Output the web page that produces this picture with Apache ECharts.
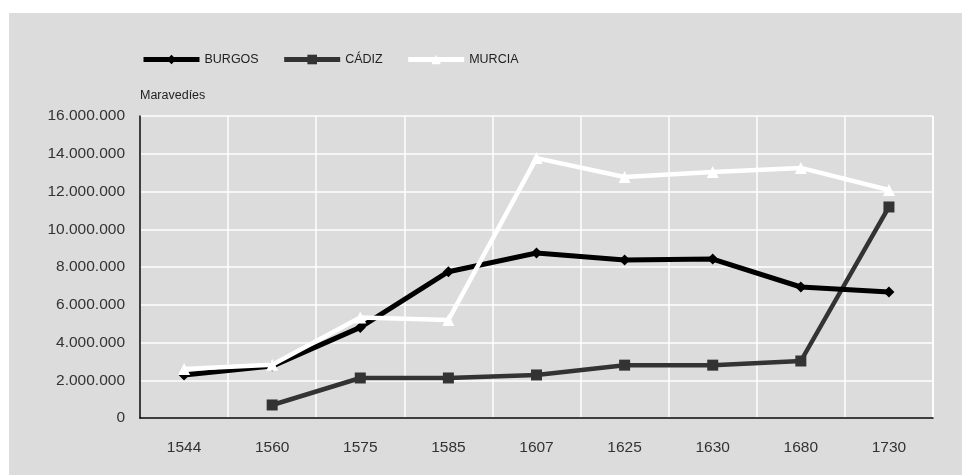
<!DOCTYPE html>
<html><head><meta charset="utf-8">
<script src="https://cdn.jsdelivr.net/npm/echarts@6/dist/echarts.min.js"></script>
<style>
html,body{margin:0;padding:0;background:#fff;}
#bg{position:absolute;left:9px;top:13px;width:953px;height:462px;background:#dcdcdc;}
#c{position:absolute;left:0;top:0;width:962px;height:475px;}
</style></head>
<body><div id="bg"></div><div id="c"></div>
<script>
const years = ['1544','1560','1575','1585','1607','1625','1630','1680','1730'];
const burgos = [2280000, 2750000, 4800000, 7750000, 8740000, 8370000, 8420000, 6940000, 6680000];
const cadiz = [null, 690000, 2120000, 2120000, 2280000, 2800000, 2800000, 3020000, 11180000];
const murcia = [2600000, 2820000, 5330000, 5190000, 13770000, 12770000, 13030000, 13250000, 12080000];
const yTicks = [0, 2000000, 4000000, 6000000, 8000000, 10000000, 12000000, 14000000, 16000000];

const fmt = v => String(v).replace(/\B(?=(\d{3})+(?!\d))/g, '.');
const font = 'Liberation Sans, Arial, sans-serif';
const chart = echarts.init(document.getElementById('c'), null, {renderer:'canvas'});
chart.setOption({
  backgroundColor: 'transparent',
  animation: false,
  textStyle: {fontFamily: font},
  legend: {
    left: 136, top: 48, itemWidth: 56, itemHeight: 12, itemGap: 23,
    textStyle: {fontSize: 12.5, color: '#222', fontFamily: font},
    data: [
      {name: 'BURGOS', lineStyle: {width: 5}},
      {name: 'CÁDIZ', lineStyle: {width: 5}},
      {name: 'MURCIA', lineStyle: {width: 5}}
    ]
  },
  grid: {left: 140, right: 29, top: 116, bottom: 57, containLabel: false},
  xAxis: {
    type: 'category', data: years, boundaryGap: true,
    axisLine: {lineStyle: {color: '#000', width: 1.5}},
    axisTick: {show: false},
    axisLabel: {fontSize: 15.5, color: '#333', margin: 22, fontFamily: font},
    splitLine: {show: true, interval: 0, lineStyle: {color: '#fff', width: 1.5}}
  },
  yAxis: {
    type: 'value', min: 0, max: 16000000, interval: 2000000,
    name: 'Maravedíes', nameLocation: 'end', nameGap: 14,
    nameTextStyle: {fontSize: 12.5, color: '#222', align: 'left', fontFamily: font},
    axisLine: {show: true, lineStyle: {color: '#000', width: 1.5}},
    axisTick: {show: false},
    axisLabel: {fontSize: 15.5, color: '#333', margin: 15, formatter: v => fmt(v), fontFamily: font},
    splitLine: {show: true, lineStyle: {color: '#fff', width: 1.5}}
  },
  series: [
    {name: 'BURGOS', type: 'line', data: burgos, color: '#000',
     lineStyle: {width: 5, color: '#000'}, symbol: 'diamond', symbolSize: 11,
     itemStyle: {color: '#000'}, z: 3},
    {name: 'CÁDIZ', type: 'line', data: cadiz, color: '#333',
     lineStyle: {width: 4.5, color: '#333'}, symbol: 'rect', symbolSize: 11,
     itemStyle: {color: '#333'}, z: 2},
    {name: 'MURCIA', type: 'line', data: murcia, color: '#fff',
     lineStyle: {width: 4.5, color: '#fff'}, symbol: 'triangle', symbolSize: 12,
     itemStyle: {color: '#fff'}, z: 4}
  ],
  graphic: [{type: 'line', shape: {x1: 933, y1: 116, x2: 933, y2: 418}, style: {stroke: '#fff', lineWidth: 1.5}}]
});
</script></body></html>
